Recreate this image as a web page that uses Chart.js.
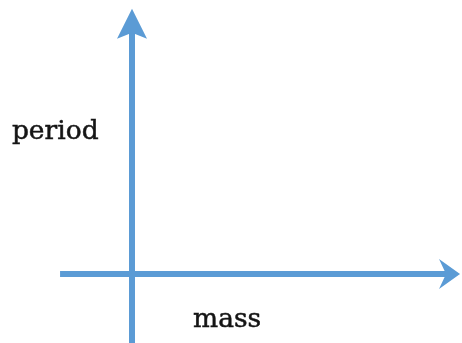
<!DOCTYPE html>
<html>
<head>
<meta charset="utf-8">
<script src="https://cdn.jsdelivr.net/npm/chart.js@4/dist/chart.umd.min.js"></script>
<style>
html,body{margin:0;padding:0;background:#fff;}
#wrap{width:462px;height:343px;}
</style>
</head>
<body>
<div id="wrap"><canvas id="c" width="462" height="343"></canvas></div>
<script>
// Schematic axes in data units (origin = where the axes cross)
const xRange = [-2, 5];
const yRange = [-1.045, 4.152];
const horizontalAxis = [-1.09, 4.97];   // from tail to arrow tip, at y = 0
const verticalAxis = [-1.05, 4.02];     // from tail to arrow tip, at x = 0
const labelTexts = ['period', 'mass'];
const labelX = [-1.82, 0.925];
const labelY = [2.04, -0.80];

const blue = '#5b9bd5';

const arrowPlugin = {
  id: 'arrows',
  afterDatasetsDraw(chart) {
    const ctx = chart.ctx;
    const xs = chart.scales.x, ys = chart.scales.y;
    ctx.save();
    ctx.fillStyle = blue;
    // horizontal arrow head (pointing right)
    let tx = xs.getPixelForValue(horizontalAxis[1]);
    let ty = ys.getPixelForValue(0);
    ctx.beginPath();
    ctx.moveTo(tx, ty);
    ctx.lineTo(tx - 21, ty - 15);
    ctx.lineTo(tx - 14, ty);
    ctx.lineTo(tx - 21, ty + 15);
    ctx.closePath();
    ctx.fill();
    // vertical arrow head (pointing up)
    tx = xs.getPixelForValue(0);
    ty = ys.getPixelForValue(verticalAxis[1]);
    ctx.beginPath();
    ctx.moveTo(tx, ty);
    ctx.lineTo(tx - 15, ty + 30);
    ctx.lineTo(tx, ty + 24);
    ctx.lineTo(tx + 15, ty + 30);
    ctx.closePath();
    ctx.fill();
    // labels
    ctx.fillStyle = '#151515';
    ctx.strokeStyle = '#151515';
    ctx.lineWidth = 0.5;
    ctx.font = '26px "DejaVu Serif"';
    ctx.textAlign = 'left';
    ctx.textBaseline = 'alphabetic';
    labelTexts.forEach((t, i) => {
      const px = xs.getPixelForValue(labelX[i]);
      const py = ys.getPixelForValue(labelY[i]);
      ctx.save();
      ctx.translate(px, py);
      ctx.scale(1.02, 1);
      ctx.fillText(t, 0, 0);
      ctx.strokeText(t, 0, 0);
      ctx.restore();
    });
    ctx.restore();
  }
};

new Chart(document.getElementById('c'), {
  type: 'scatter',
  data: {
    datasets: [
      {
        data: [{x: horizontalAxis[0], y: 0}, {x: horizontalAxis[1] - 0.2, y: 0}],
        showLine: true, borderColor: blue, borderWidth: 6, pointRadius: 0,
        borderCapStyle: 'butt'
      },
      {
        data: [{x: 0, y: verticalAxis[0]}, {x: 0, y: verticalAxis[1] - 0.35}],
        showLine: true, borderColor: blue, borderWidth: 6, pointRadius: 0,
        borderCapStyle: 'butt'
      }
    ]
  },
  options: {
    responsive: false,
    animation: false,
    layout: { padding: 0 },
    plugins: { legend: { display: false }, tooltip: { enabled: false } },
    scales: {
      x: { type: 'linear', min: xRange[0], max: xRange[1], display: false },
      y: { type: 'linear', min: yRange[0], max: yRange[1], display: false }
    }
  },
  plugins: [arrowPlugin]
});
</script>
</body>
</html>
